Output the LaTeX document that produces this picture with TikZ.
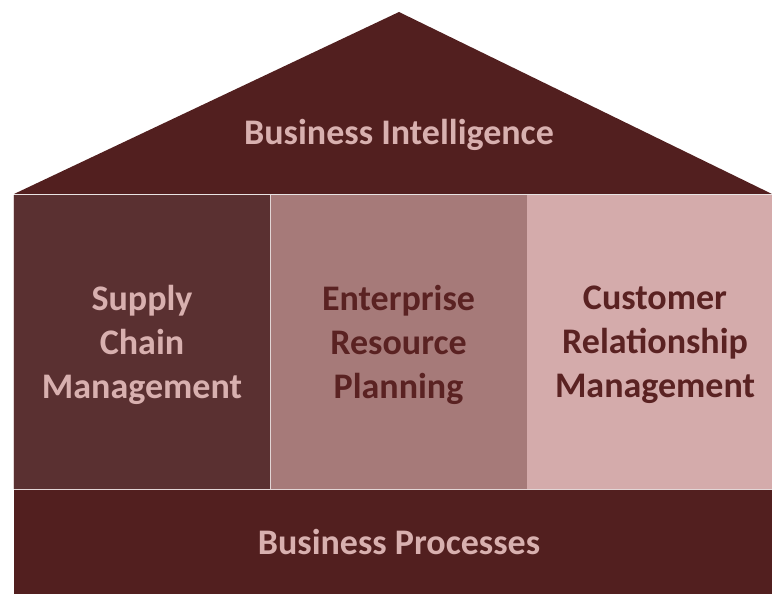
\documentclass[tikz,border=0pt]{standalone}
\usepackage{fontspec}
\setmainfont{Carlito}
\usepackage{tikz}

\definecolor{roofred}{HTML}{521F1F}
\definecolor{pillarA}{HTML}{5A3031}
\definecolor{pillarB}{HTML}{A67A79}
\definecolor{pillarC}{HTML}{D4ABAB}
\definecolor{textlight}{HTML}{D8B0AF}
\definecolor{textdark}{HTML}{5A2222}
\definecolor{seam}{HTML}{E2D6D6}

\begin{document}
\begin{tikzpicture}[x=1pt, y=-1pt,
    label/.style={font=\bfseries\fontsize{36}{44}\selectfont, align=center},
    pillar/.style={label, minimum width=256pt, minimum height=300pt, inner sep=0pt}]
      \useasboundingbox (0, 0) rectangle (772, 594);

      % 屋根
      \fill[roofred] (14, 194) -- (399, 12) -- (772, 194) -- cycle;
      \node[label, text=textlight] (bi) at (399, 135) {Business Intelligence};

      % 柱
      \node[pillar, fill=pillarA, text=textlight] (scm) at (142, 345) {Supply\\Chain\\Management};
      \node[pillar, fill=pillarB, text=textdark] (erp) at (398.5, 345) {Enterprise\\Resource\\Planning};
      \node[pillar, fill=pillarC, text=textdark] (crm) at (655, 345) {Customer\\Relationship\\Management};

      % 土台
      \node[label, fill=roofred, text=textlight, minimum width=770pt, minimum height=105pt, inner sep=0pt] (bp) at (399, 542) {Business Processes};

      % 継ぎ目
      \draw[seam, line width=0.8pt] (scm.north west) -- (scm.south west |- bp.north);
      \draw[seam, line width=0.8pt] (scm.north east) -- (scm.south east |- bp.north);
      \draw[seam, line width=0.8pt] (bp.north west) -- (bp.north east);
    \end{tikzpicture}
\end{document}
